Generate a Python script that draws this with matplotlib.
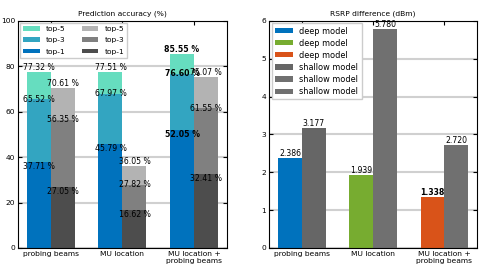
import matplotlib
matplotlib.use('Agg')
import matplotlib.pyplot as plt
import numpy as np

categories = ['probing beams', 'MU location', 'MU location +\nprobing beams']

# prediction accuracy (%), stacked top-1 / top-3 / top-5
deep_top1 = [37.71, 45.79, 52.05]
deep_top3 = [65.52, 67.97, 76.60]
deep_top5 = [77.32, 77.51, 85.55]
shallow_top1 = [27.05, 16.62, 32.41]
shallow_top3 = [56.35, 27.82, 61.55]
shallow_top5 = [70.61, 36.05, 75.07]

# RSRP difference (dBm)
rsrp_deep = [2.386, 1.939, 1.338]
rsrp_shallow = [3.177, 5.780, 2.720]

deep_colors = ['#0072BD', '#33A5C1', '#66DDBF']
shallow_colors = ['#4D4D4D', '#808080', '#B3B3B3']
rsrp_deep_colors = ['#0072BD', '#77AC30', '#D95319']
rsrp_shallow_colors = ['#666666', '#707070', '#707070']

fs = 5.4
plt.rcParams['font.size'] = fs

fig = plt.figure(figsize=(4.85, 2.7), dpi=100)
ax1 = fig.add_axes([0.037, 0.0815, 0.431, 0.8415])
ax2 = fig.add_axes([0.555, 0.0815, 0.429, 0.8415])

x = np.arange(len(categories))
w = 0.335


def style_axes(ax):
    ax.set_axisbelow(True)
    ax.yaxis.grid(True, color='#d0d0d0', linewidth=1.5)
    ax.tick_params(direction='in', top=True, right=True, length=3, labelsize=fs, pad=2)
    ax.set_xticks(x)
    ax.set_xticklabels(categories)
    ax.set_xlim(-0.46, 2.46)
    for s in ax.spines.values():
        s.set_linewidth(0.8)


# left: stacked accuracy bars, top-5 drawn first so lower levels overlay
deep_levels = [deep_top1, deep_top3, deep_top5]
shallow_levels = [shallow_top1, shallow_top3, shallow_top5]
names = ['top-1', 'top-3', 'top-5']
vas = ['top', 'center', 'bottom']
deep_h = {}
shallow_h = {}
for k in [2, 1, 0]:
    deep_h[k] = ax1.bar(x - w / 2, deep_levels[k], w, color=deep_colors[k], label=names[k])
    shallow_h[k] = ax1.bar(x + w / 2, shallow_levels[k], w, color=shallow_colors[k], label=names[k])

for k in range(3):
    for i in range(3):
        ax1.text(x[i] - w / 2, deep_levels[k][i], '%.2f %%' % deep_levels[k][i],
                 ha='center', va=vas[k], fontsize=5.6, fontweight='bold' if i == 2 else 'normal')
        ax1.text(x[i] + w / 2, shallow_levels[k][i], '%.2f %%' % shallow_levels[k][i],
                 ha='center', va=vas[k], fontsize=5.6)

style_axes(ax1)
ax1.set_ylim(0, 100)
ax1.set_yticks([0, 20, 40, 60, 80, 100])
ax1.set_title('Prediction accuracy (%)', fontsize=fs, pad=4)
handles = [deep_h[2], deep_h[1], deep_h[0], shallow_h[2], shallow_h[1], shallow_h[0]]
ax1.legend(handles, [h.get_label() for h in handles], ncol=2, loc='upper left',
           fontsize=5.4, handlelength=2.2, handleheight=0.6, columnspacing=2.2,
           borderaxespad=0.3, labelspacing=0.7, fancybox=False, edgecolor='#cccccc',
           framealpha=1)

# right: RSRP difference
dh = ax2.bar(x - w / 2, rsrp_deep, w, color=rsrp_deep_colors)
sh = ax2.bar(x + w / 2, rsrp_shallow, w, color=rsrp_shallow_colors)
for i in range(3):
    ax2.text(x[i] - w / 2, rsrp_deep[i], '%.3f' % rsrp_deep[i], ha='center', va='bottom',
             fontsize=5.6, fontweight='bold' if i == 2 else 'normal')
    ax2.text(x[i] + w / 2, rsrp_shallow[i], '%.3f' % rsrp_shallow[i], ha='center', va='bottom',
             fontsize=5.6)

style_axes(ax2)
ax2.set_ylim(0, 6)
ax2.set_yticks(range(7))
ax2.set_title('RSRP difference (dBm)', fontsize=fs, pad=4)
ax2.legend(list(dh.patches) + list(sh.patches),
           ['deep model'] * 3 + ['shallow model'] * 3, loc='upper left', fontsize=5.9,
           handlelength=2.2, handleheight=0.6, borderaxespad=0.3, labelspacing=0.38,
           fancybox=False, edgecolor='#cccccc', framealpha=1)

fig.savefig('out.png', dpi=100)
